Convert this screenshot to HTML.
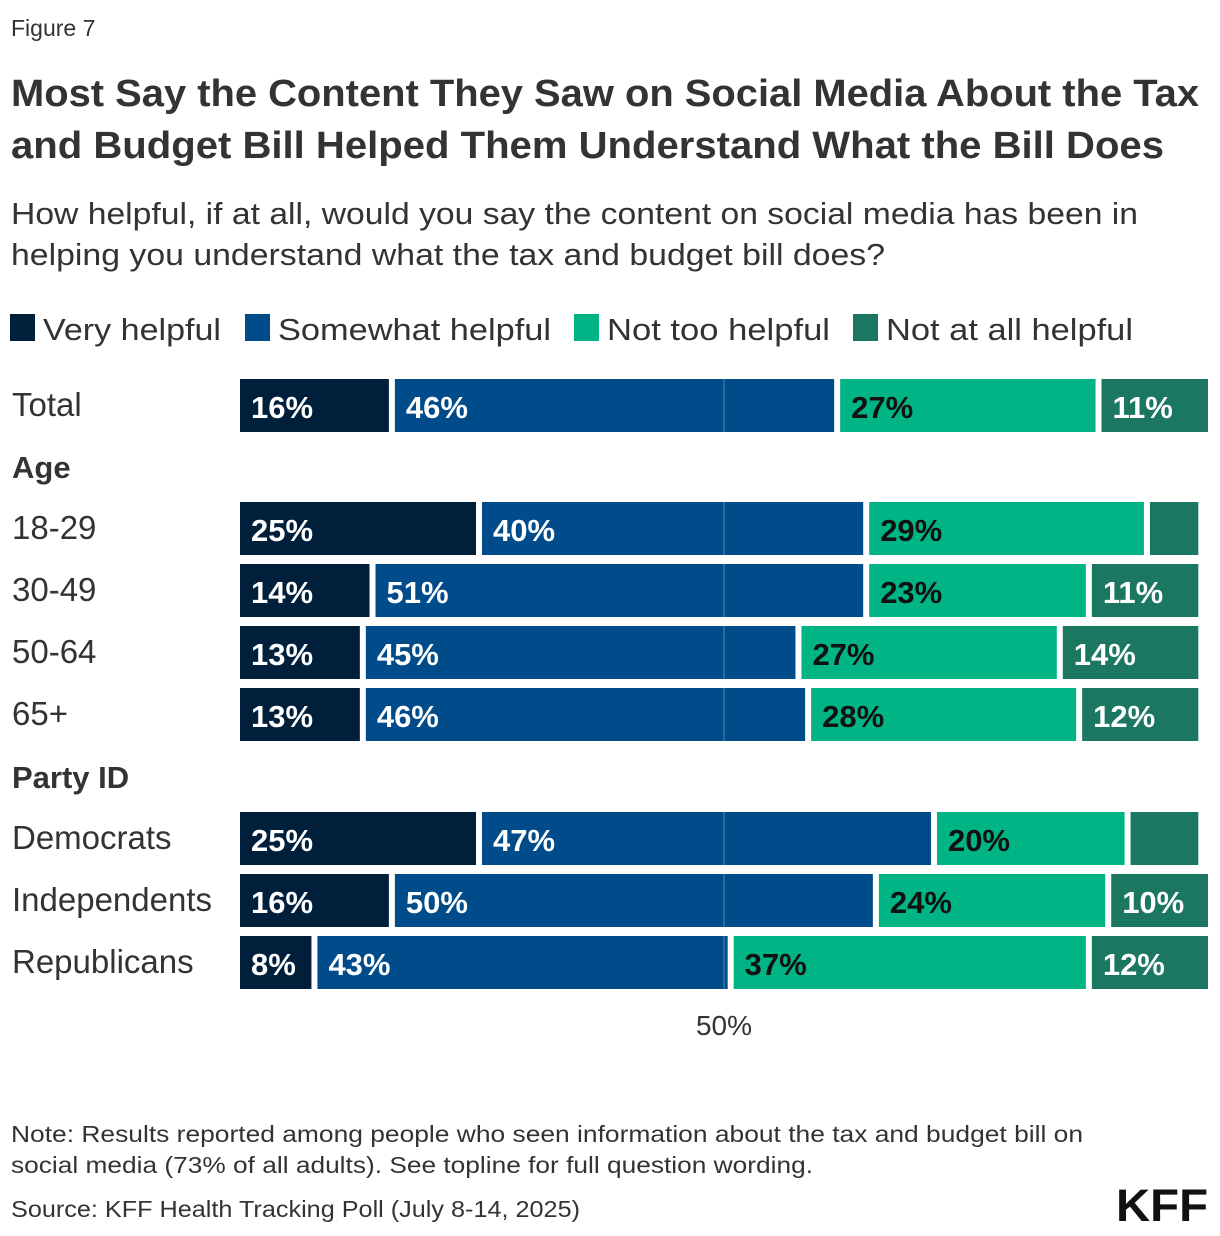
<!DOCTYPE html>
<html><head><meta charset="utf-8"><style>
html,body{margin:0;padding:0;background:#fff;}
svg{display:block;font-family:"Liberation Sans",sans-serif;}
</style></head><body>
<svg id="chart" width="1220" height="1236" viewBox="0 0 1220 1236" xmlns="http://www.w3.org/2000/svg">
<text x="11" y="36" font-size="23" fill="#333">Figure 7</text>
<text x="11" y="106" font-size="38" font-weight="bold" fill="#333" textLength="1188" lengthAdjust="spacingAndGlyphs">Most Say the Content They Saw on Social Media About the Tax</text>
<text x="11" y="158" font-size="38" font-weight="bold" fill="#333" textLength="1153" lengthAdjust="spacingAndGlyphs">and Budget Bill Helped Them Understand What the Bill Does</text>
<text x="11" y="224" font-size="31" fill="#333" textLength="1127" lengthAdjust="spacingAndGlyphs">How helpful, if at all, would you say the content on social media has been in</text>
<text x="11" y="265" font-size="31" fill="#333" textLength="874" lengthAdjust="spacingAndGlyphs">helping you understand what the tax and budget bill does?</text>
<g id="legend"></g>
<g id="plot"></g>
<text x="724" y="1035" font-size="28" fill="#333" text-anchor="middle">50%</text>
<text x="11" y="1142" font-size="23" fill="#333" textLength="1072" lengthAdjust="spacingAndGlyphs">Note: Results reported among people who seen information about the tax and budget bill on</text>
<text x="11" y="1173" font-size="23" fill="#333" textLength="802" lengthAdjust="spacingAndGlyphs">social media (73% of all adults). See topline for full question wording.</text>
<text x="11" y="1217" font-size="23" fill="#333" textLength="569" lengthAdjust="spacingAndGlyphs">Source: KFF Health Tracking Poll (July 8-14, 2025)</text>
<text x="1208" y="1221" font-size="45" font-weight="bold" fill="#111" text-anchor="end" textLength="92" lengthAdjust="spacingAndGlyphs">KFF</text>
</svg>
<script>
const categories = ["Total","18-29","30-49","50-64","65+","Democrats","Independents","Republicans"];
const veryHelpful = [16,25,14,13,13,25,16,8];
const somewhatHelpful = [46,40,51,45,46,47,50,43];
const notTooHelpful = [27,29,23,27,28,20,24,37];
const notAtAllHelpful = [11,5,11,14,12,7,10,12];
const showLabel = [[1,1,1,1],[1,1,1,0],[1,1,1,1],[1,1,1,1],[1,1,1,1],[1,1,1,0],[1,1,1,1],[1,1,1,1]];
const seriesNames = ["Very helpful","Somewhat helpful","Not too helpful","Not at all helpful"];
const groupHeaders = [{label:"Age", before:1},{label:"Party ID", before:5}];

const NS="http://www.w3.org/2000/svg";
const colors=["#001f3a","#004b8a","#00b485","#1b7662"];
const textColors=["#fff","#fff","#111","#fff"];
const x0=240, x50=724;
function xScale(v){return x0+(x50-x0)*v/50;}
const rowTop=[379,502,564,626,688,812,874,936];
const barH=53, gap=6;
const plot=document.getElementById('plot');
const legend=document.getElementById('legend');
function mk(tag,attrs,parent){const e=document.createElementNS(NS,tag);for(const k in attrs)e.setAttribute(k,attrs[k]);parent.appendChild(e);return e;}

const legX=[10,245,574,853];
const legW=[178,273,223,247];
seriesNames.forEach((n,i)=>{
  const r=mk('rect',{x:legX[i],y:314,width:25,height:27,fill:colors[i]},legend);
  
  
  const t=mk('text',{x:legX[i]+33,y:340,'font-size':31,fill:'#333',textLength:legW[i],lengthAdjust:'spacingAndGlyphs'},legend);
  t.textContent=n;
  
  
});

groupHeaders.forEach(g=>{
  const t=mk('text',{x:12,y:rowTop[g.before]-24,'font-size':31,'font-weight':'bold',fill:'#333'},plot);
  t.textContent=g.label;
  
  
});

const series=[veryHelpful,somewhatHelpful,notTooHelpful,notAtAllHelpful];
categories.forEach((c,ri)=>{
  const y=rowTop[ri];
  const lab=mk('text',{x:12,y:y+37,'font-size':33,fill:'#333'},plot);
  lab.textContent=c;
  
  
  let cum=0;
  series.forEach((s,si)=>{
    const v=s[ri];
    const xs=xScale(cum), xe=xScale(cum+v);
    const w=(si<3)?(xe-xs-gap):(xe-xs);
    const r=mk('rect',{x:xs,y:y,width:Math.max(0,w),height:barH,fill:colors[si]},plot);
    
    
    if(showLabel[ri][si]){
      const t=mk('text',{x:xs+11,y:y+39,'font-size':31,'font-weight':'bold',fill:textColors[si]},plot);
      t.textContent=v+'%';
      
      
    }
    cum+=v;
  });
});
const gl=mk('line',{x1:x50,x2:x50,y1:379,y2:989,stroke:'#ffffff','stroke-opacity':0.35,'stroke-width':1},plot);


</script>
</body></html>
